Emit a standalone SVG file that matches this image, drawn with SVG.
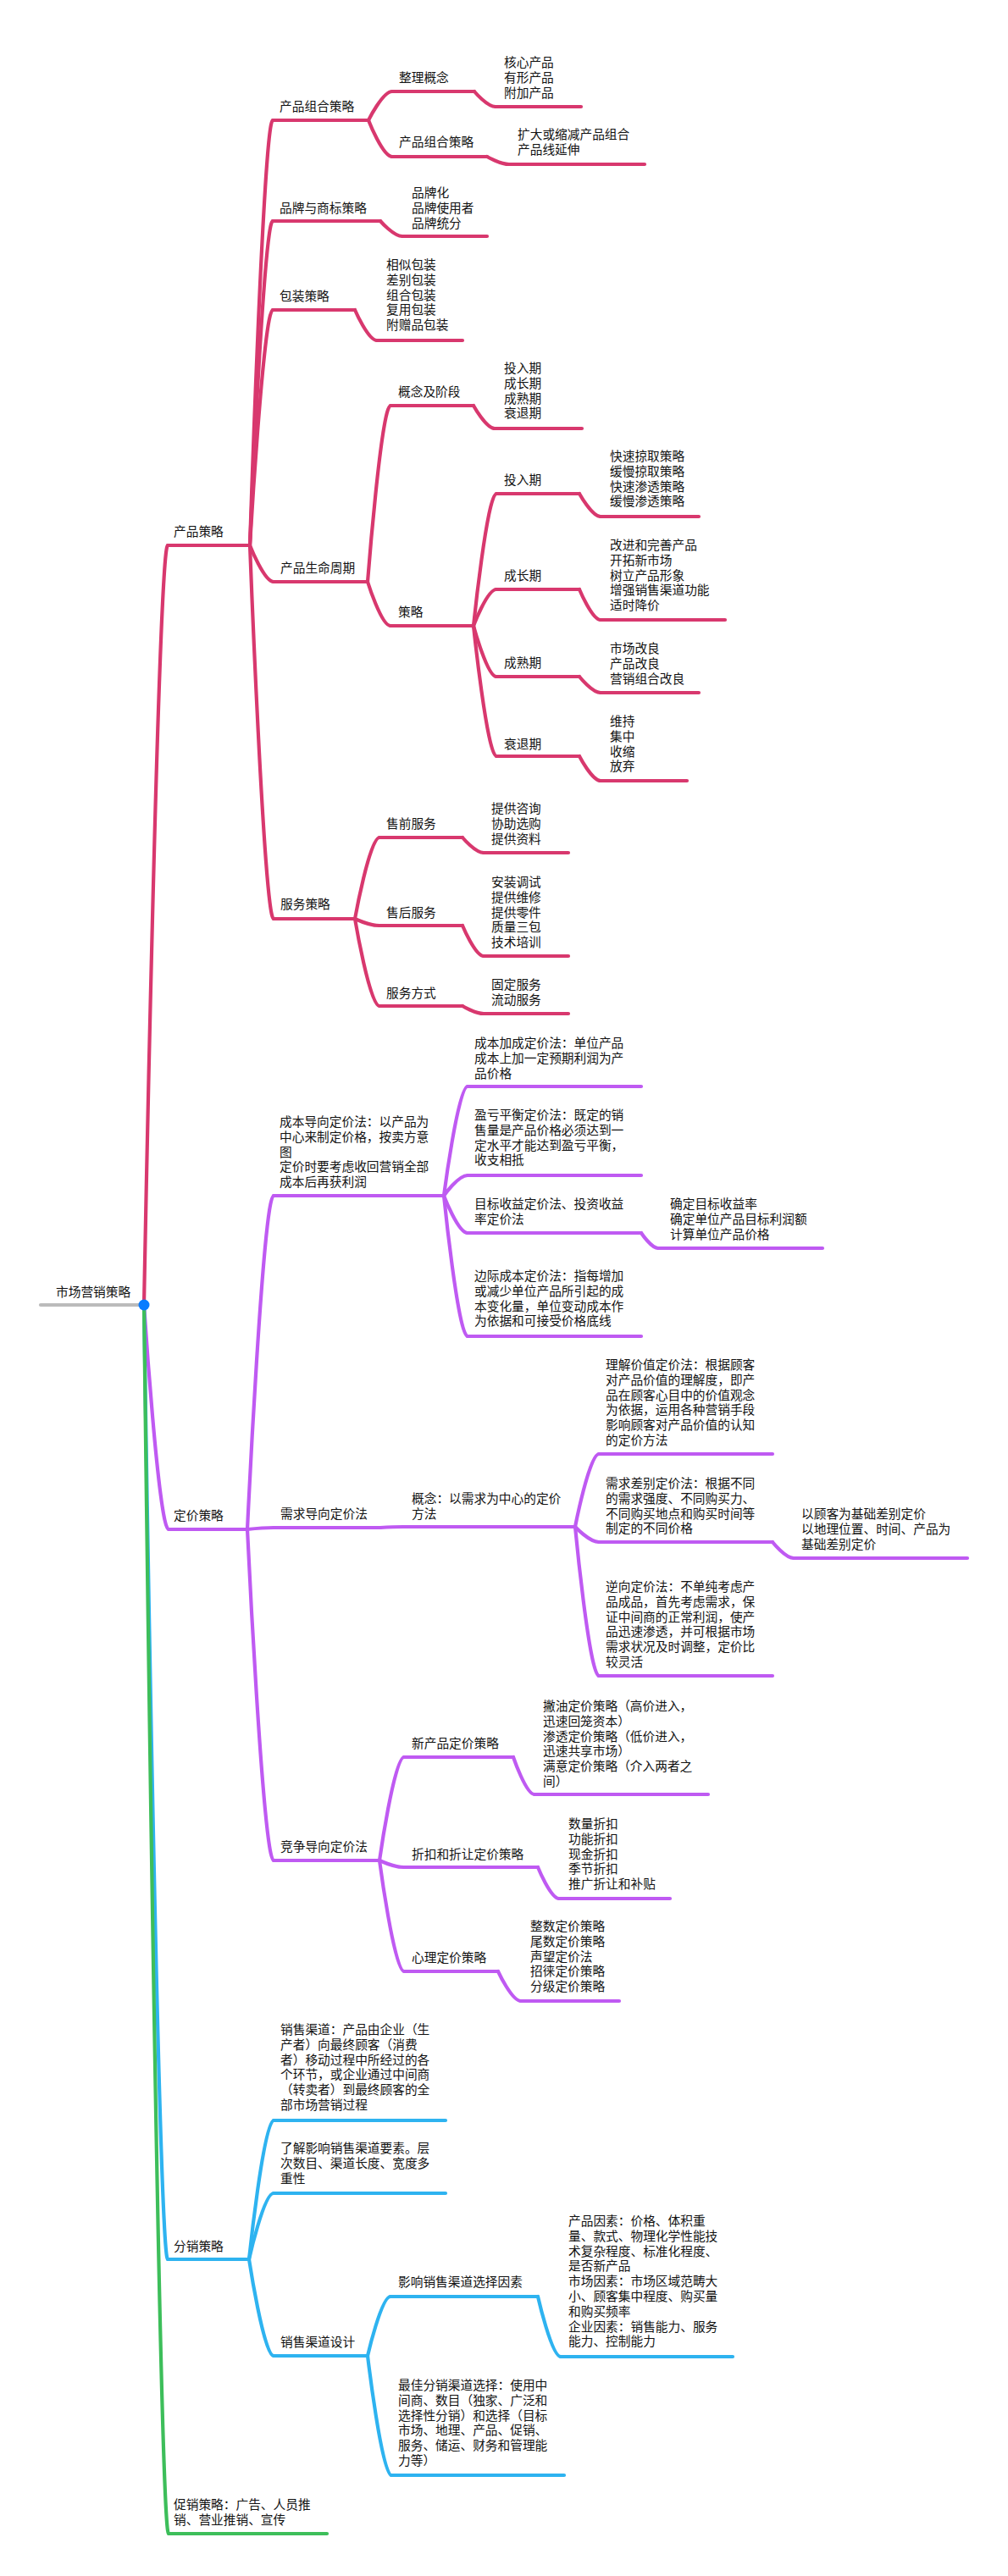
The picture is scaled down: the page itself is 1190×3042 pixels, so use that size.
<svg xmlns="http://www.w3.org/2000/svg" width="1190" height="3042" viewBox="0 0 1190 3042">
<style>
text{font-family:"Noto Sans CJK SC","Noto Sans",sans-serif;font-size:14.7px;fill:#111}
.c{fill:none;stroke-width:4.2;stroke-linecap:round;stroke-linejoin:round}
.pk{stroke:#D8386E}.pu{stroke:#BF5AF2}.bl{stroke:#2EB3F0}.gr{stroke:#3DBE5A}.gy{stroke:#BBBBBB}
</style>
<rect width="1190" height="3042" fill="#fff"/>
<g id="connectors">
<path class="c pu" d="M170 1541 C170 1541 187.4 1806 199 1806"/>
<path class="c bl" d="M170 1541 C170 1541 186.8 2668 198 2668"/>
<path class="c gr" d="M170 1541 C170 1541 187.4 2992 199 2992"/>
<path class="c pk" d="M170 1541 C170 1541 186.8 644 198 644"/>
<g class="c pk">
<path d="M295 644 C295 644 311.2 142 322 142"/>
<path d="M295 644 C295 644 311.2 261 322 261"/>
<path d="M295 644 C295 644 311.2 366 322 366"/>
<path d="M295 644 C295 644 311.8 687 323 687"/>
<path d="M295 644 C295 644 311.8 1085 323 1085"/>
<path d="M435 142 C435 142 451.8 108 463 108"/>
<path d="M435 142 C435 142 451.8 185 463 185"/>
<path d="M560 108 C560 108 575 126 585 126"/>
<path d="M575 185 C575 185 590.6 194 601 194"/>
<path d="M449 261 C449 261 464.6 279 475 279"/>
<path d="M419 366 C419 366 434.6 402 445 402"/>
<path d="M434 687 C434 687 450.2 479 461 479"/>
<path d="M434 687 C434 687 450.2 739 461 739"/>
<path d="M559 479 C559 479 574 506 584 506"/>
<path d="M559 739 C559 739 575.2 583 586 583"/>
<path d="M559 739 C559 739 575.2 696 586 696"/>
<path d="M559 739 C559 739 575.2 799 586 799"/>
<path d="M559 739 C559 739 575.2 893 586 893"/>
<path d="M684 583 C684 583 699 610 709 610"/>
<path d="M684 696 C684 696 699 732 709 732"/>
<path d="M684 799 C684 799 699 818 709 818"/>
<path d="M684 893 C684 893 699 922 709 922"/>
<path d="M419 1085 C419 1085 436.4 989 448 989"/>
<path d="M419 1085 C419 1085 436.4 1093 448 1093"/>
<path d="M419 1085 C419 1085 436.4 1188 448 1188"/>
<path d="M546 989 C546 989 561 1007 571 1007"/>
<path d="M546 1093 C546 1093 561 1129 571 1129"/>
<path d="M546 1188 C546 1188 561 1197 571 1197"/>
</g>
<g class="c pu">
<path d="M292 1806 C292 1806 310.6 1412 323 1412"/>
<path d="M292 1806 C292 1806 310.6 1804 323 1804"/>
<path d="M292 1806 C292 1806 310.6 2197 323 2197"/>
<path d="M524 1412 C524 1412 540.8 1283 552 1283"/>
<path d="M524 1412 C524 1412 540.8 1388 552 1388"/>
<path d="M524 1412 C524 1412 540.8 1456 552 1456"/>
<path d="M524 1412 C524 1412 540.8 1578 552 1578"/>
<path d="M757 1456 C757 1456 769 1474 777 1474"/>
<path d="M449 1804 C449 1804 465.2 1803 476 1803"/>
<path d="M679 1803 C679 1803 695.8 1717 707 1717"/>
<path d="M679 1803 C679 1803 695.8 1821 707 1821"/>
<path d="M679 1803 C679 1803 695.8 1979 707 1979"/>
<path d="M912 1821 C912 1821 927 1840 937 1840"/>
<path d="M448 2197 C448 2197 465.4 2075 477 2075"/>
<path d="M448 2197 C448 2197 465.4 2205 477 2205"/>
<path d="M448 2197 C448 2197 465.4 2328 477 2328"/>
<path d="M606 2075 C606 2075 621 2119 631 2119"/>
<path d="M635 2205 C635 2205 650 2242 660 2242"/>
<path d="M588 2328 C588 2328 604.2 2363 615 2363"/>
</g>
<g class="c bl">
<path d="M294 2668 C294 2668 311.4 2504 323 2504"/>
<path d="M294 2668 C294 2668 311.4 2590 323 2590"/>
<path d="M294 2668 C294 2668 311.4 2782 323 2782"/>
<path d="M434 2782 C434 2782 450.2 2712 461 2712"/>
<path d="M434 2782 C434 2782 450.8 2923 462 2923"/>
<path d="M635 2712 C635 2712 651.2 2783 662 2783"/>
</g>
</g>

<g id="root">
<path class="c gy" d="M48 1541 H170"/>
<text x="66" y="1531">市场营销策略</text>
<circle cx="170" cy="1541" r="6.5" fill="#0A7CFF"/>
</g>

<g id="n-product"><path class="c pk" d="M198 644 H295"/><text x="205" y="633">产品策略</text></g>
<g id="n-combo"><path class="c pk" d="M322 142 H435"/><text x="330" y="131">产品组合策略</text></g>
<g id="n-concept"><path class="c pk" d="M463 108 H560"/><text x="471" y="97">整理概念</text></g>
<g id="n-concept-leaf"><path class="c pk" d="M585 126 H686"/><text x="595" y="79">核心产品<tspan x="595" dy="17.8">有形产品</tspan><tspan x="595" dy="17.8">附加产品</tspan></text></g>
<g id="n-combo2"><path class="c pk" d="M463 185 H575"/><text x="471" y="173">产品组合策略</text></g>
<g id="n-combo2-leaf"><path class="c pk" d="M601 194 H761"/><text x="611" y="164">扩大或缩减产品组合<tspan x="611" dy="17.8">产品线延伸</tspan></text></g>
<g id="n-brand"><path class="c pk" d="M322 261 H449"/><text x="330" y="251">品牌与商标策略</text></g>
<g id="n-brand-leaf"><path class="c pk" d="M475 279 H575"/><text x="486" y="233">品牌化<tspan x="486" dy="17.8">品牌使用者</tspan><tspan x="486" dy="17.8">品牌统分</tspan></text></g>
<g id="n-pack"><path class="c pk" d="M322 366 H419"/><text x="330" y="355">包装策略</text></g>
<g id="n-pack-leaf"><path class="c pk" d="M445 402 H546"/><text x="456" y="318">相似包装<tspan x="456" dy="17.8">差别包装</tspan><tspan x="456" dy="17.8">组合包装</tspan><tspan x="456" dy="17.8">复用包装</tspan><tspan x="456" dy="17.8">附赠品包装</tspan></text></g>
<g id="n-plc"><path class="c pk" d="M323 687 H434"/><text x="331" y="676">产品生命周期</text></g>
<g id="n-stage"><path class="c pk" d="M461 479 H559"/><text x="470" y="468">概念及阶段</text></g>
<g id="n-stage-leaf"><path class="c pk" d="M584 506 H687"/><text x="595" y="440">投入期<tspan x="595" dy="17.8">成长期</tspan><tspan x="595" dy="17.8">成熟期</tspan><tspan x="595" dy="17.8">衰退期</tspan></text></g>
<g id="n-strat"><path class="c pk" d="M461 739 H559"/><text x="470" y="728">策略</text></g>
<g id="n-intro"><path class="c pk" d="M586 583 H684"/><text x="595" y="572">投入期</text></g>
<g id="n-intro-leaf"><path class="c pk" d="M709 610 H825"/><text x="720" y="544">快速掠取策略<tspan x="720" dy="17.8">缓慢掠取策略</tspan><tspan x="720" dy="17.8">快速渗透策略</tspan><tspan x="720" dy="17.8">缓慢渗透策略</tspan></text></g>
<g id="n-growth"><path class="c pk" d="M586 696 H684"/><text x="595" y="685">成长期</text></g>
<g id="n-growth-leaf"><path class="c pk" d="M709 732 H856"/><text x="720" y="649">改进和完善产品<tspan x="720" dy="17.8">开拓新市场</tspan><tspan x="720" dy="17.8">树立产品形象</tspan><tspan x="720" dy="17.8">增强销售渠道功能</tspan><tspan x="720" dy="17.8">适时降价</tspan></text></g>
<g id="n-mature"><path class="c pk" d="M586 799 H684"/><text x="595" y="788">成熟期</text></g>
<g id="n-mature-leaf"><path class="c pk" d="M709 818 H825"/><text x="720" y="771">市场改良<tspan x="720" dy="17.8">产品改良</tspan><tspan x="720" dy="17.8">营销组合改良</tspan></text></g>
<g id="n-decline"><path class="c pk" d="M586 893 H684"/><text x="595" y="884">衰退期</text></g>
<g id="n-decline-leaf"><path class="c pk" d="M709 922 H811"/><text x="720" y="857">维持<tspan x="720" dy="17.8">集中</tspan><tspan x="720" dy="17.8">收缩</tspan><tspan x="720" dy="17.8">放弃</tspan></text></g>
<g id="n-service"><path class="c pk" d="M323 1085 H419"/><text x="331" y="1073">服务策略</text></g>
<g id="n-pre"><path class="c pk" d="M448 989 H546"/><text x="456" y="978">售前服务</text></g>
<g id="n-pre-leaf"><path class="c pk" d="M571 1007 H671"/><text x="580" y="960">提供咨询<tspan x="580" dy="17.8">协助选购</tspan><tspan x="580" dy="17.8">提供资料</tspan></text></g>
<g id="n-after"><path class="c pk" d="M448 1093 H546"/><text x="456" y="1083">售后服务</text></g>
<g id="n-after-leaf"><path class="c pk" d="M571 1129 H671"/><text x="580" y="1047">安装调试<tspan x="580" dy="17.8">提供维修</tspan><tspan x="580" dy="17.8">提供零件</tspan><tspan x="580" dy="17.8">质量三包</tspan><tspan x="580" dy="17.8">技术培训</tspan></text></g>
<g id="n-mode"><path class="c pk" d="M448 1188 H546"/><text x="456" y="1178">服务方式</text></g>
<g id="n-mode-leaf"><path class="c pk" d="M571 1197 H671"/><text x="580" y="1168">固定服务<tspan x="580" dy="17.8">流动服务</tspan></text></g>

<g id="n-pricing"><path class="c pu" d="M199 1806 H292"/><text x="205" y="1795">定价策略</text></g>
<g id="n-cost"><path class="c pu" d="M323 1412 H524"/><text x="330" y="1330">成本导向定价法：以产品为<tspan x="330" dy="17.8">中心来制定价格，按卖方意</tspan><tspan x="330" dy="17.8">图</tspan><tspan x="330" dy="17.8">定价时要考虑收回营销全部</tspan><tspan x="330" dy="17.8">成本后再获利润</tspan></text></g>
<g id="n-costplus"><path class="c pu" d="M552 1283 H757"/><text x="560" y="1237">成本加成定价法：单位产品<tspan x="560" dy="17.8">成本上加一定预期利润为产</tspan><tspan x="560" dy="17.8">品价格</tspan></text></g>
<g id="n-breakeven"><path class="c pu" d="M552 1388 H757"/><text x="560" y="1322">盈亏平衡定价法：既定的销<tspan x="560" dy="17.8">售量是产品价格必须达到一</tspan><tspan x="560" dy="17.8">定水平才能达到盈亏平衡，</tspan><tspan x="560" dy="17.8">收支相抵</tspan></text></g>
<g id="n-target"><path class="c pu" d="M552 1456 H757"/><text x="560" y="1427">目标收益定价法、投资收益<tspan x="560" dy="17.8">率定价法</tspan></text></g>
<g id="n-target-leaf"><path class="c pu" d="M777 1474 H971"/><text x="791" y="1427">确定目标收益率<tspan x="791" dy="17.8">确定单位产品目标利润额</tspan><tspan x="791" dy="17.8">计算单位产品价格</tspan></text></g>
<g id="n-marginal"><path class="c pu" d="M552 1578 H757"/><text x="560" y="1512">边际成本定价法：指每增加<tspan x="560" dy="17.8">或减少单位产品所引起的成</tspan><tspan x="560" dy="17.8">本变化量，单位变动成本作</tspan><tspan x="560" dy="17.8">为依据和可接受价格底线</tspan></text></g>
<g id="n-demand"><path class="c pu" d="M323 1804 H449"/><text x="331" y="1793">需求导向定价法</text></g>
<g id="n-dconcept"><path class="c pu" d="M476 1803 H679"/><text x="486" y="1775">概念：以需求为中心的定价<tspan x="486" dy="17.8">方法</tspan></text></g>
<g id="n-perceived"><path class="c pu" d="M707 1717 H912"/><text x="715" y="1617">理解价值定价法：根据顾客<tspan x="715" dy="17.8">对产品价值的理解度，即产</tspan><tspan x="715" dy="17.8">品在顾客心目中的价值观念</tspan><tspan x="715" dy="17.8">为依据，运用各种营销手段</tspan><tspan x="715" dy="17.8">影响顾客对产品价值的认知</tspan><tspan x="715" dy="17.8">的定价方法</tspan></text></g>
<g id="n-diff"><path class="c pu" d="M707 1821 H912"/><text x="715" y="1757">需求差别定价法：根据不同<tspan x="715" dy="17.8">的需求强度、不同购买力、</tspan><tspan x="715" dy="17.8">不同购买地点和购买时间等</tspan><tspan x="715" dy="17.8">制定的不同价格</tspan></text></g>
<g id="n-diff-leaf"><path class="c pu" d="M937 1840 H1142"/><text x="946" y="1793">以顾客为基础差别定价<tspan x="946" dy="17.8">以地理位置、时间、产品为</tspan><tspan x="946" dy="17.8">基础差别定价</tspan></text></g>
<g id="n-reverse"><path class="c pu" d="M707 1979 H912"/><text x="715" y="1879">逆向定价法：不单纯考虑产<tspan x="715" dy="17.8">品成品，首先考虑需求，保</tspan><tspan x="715" dy="17.8">证中间商的正常利润，使产</tspan><tspan x="715" dy="17.8">品迅速渗透，并可根据市场</tspan><tspan x="715" dy="17.8">需求状况及时调整，定价比</tspan><tspan x="715" dy="17.8">较灵活</tspan></text></g>
<g id="n-compete"><path class="c pu" d="M323 2197 H448"/><text x="331" y="2186">竞争导向定价法</text></g>
<g id="n-new"><path class="c pu" d="M477 2075 H606"/><text x="486" y="2064">新产品定价策略</text></g>
<g id="n-new-leaf"><path class="c pu" d="M631 2119 H836"/><text x="641" y="2020">撇油定价策略（高价进入，<tspan x="641" dy="17.8">迅速回笼资本）</tspan><tspan x="641" dy="17.8">渗透定价策略（低价进入，</tspan><tspan x="641" dy="17.8">迅速共享市场）</tspan><tspan x="641" dy="17.8">满意定价策略（介入两者之</tspan><tspan x="641" dy="17.8">间）</tspan></text></g>
<g id="n-discount"><path class="c pu" d="M477 2205 H635"/><text x="486" y="2195">折扣和折让定价策略</text></g>
<g id="n-discount-leaf"><path class="c pu" d="M660 2242 H791"/><text x="671" y="2159">数量折扣<tspan x="671" dy="17.8">功能折扣</tspan><tspan x="671" dy="17.8">现金折扣</tspan><tspan x="671" dy="17.8">季节折扣</tspan><tspan x="671" dy="17.8">推广折让和补贴</tspan></text></g>
<g id="n-psych"><path class="c pu" d="M477 2328 H588"/><text x="486" y="2317">心理定价策略</text></g>
<g id="n-psych-leaf"><path class="c pu" d="M615 2363 H731"/><text x="626" y="2280">整数定价策略<tspan x="626" dy="17.8">尾数定价策略</tspan><tspan x="626" dy="17.8">声望定价法</tspan><tspan x="626" dy="17.8">招徕定价策略</tspan><tspan x="626" dy="17.8">分级定价策略</tspan></text></g>

<g id="n-dist"><path class="c bl" d="M198 2668 H294"/><text x="205" y="2658">分销策略</text></g>
<g id="n-channel"><path class="c bl" d="M323 2504 H526"/><text x="331" y="2402">销售渠道：产品由企业（生<tspan x="331" dy="17.8">产者）向最终顾客（消费</tspan><tspan x="331" dy="17.8">者）移动过程中所经过的各</tspan><tspan x="331" dy="17.8">个环节，或企业通过中间商</tspan><tspan x="331" dy="17.8">（转卖者）到最终顾客的全</tspan><tspan x="331" dy="17.8">部市场营销过程</tspan></text></g>
<g id="n-know"><path class="c bl" d="M323 2590 H526"/><text x="331" y="2542">了解影响销售渠道要素。层<tspan x="331" dy="17.8">次数目、渠道长度、宽度多</tspan><tspan x="331" dy="17.8">重性</tspan></text></g>
<g id="n-design"><path class="c bl" d="M323 2782 H434"/><text x="331" y="2771">销售渠道设计</text></g>
<g id="n-influence"><path class="c bl" d="M461 2712 H635"/><text x="470" y="2700">影响销售渠道选择因素</text></g>
<g id="n-influence-leaf"><path class="c bl" d="M662 2783 H865"/><text x="671" y="2628">产品因素：价格、体积重<tspan x="671" dy="17.8">量、款式、物理化学性能技</tspan><tspan x="671" dy="17.8">术复杂程度、标准化程度、</tspan><tspan x="671" dy="17.8">是否新产品</tspan><tspan x="671" dy="17.8">市场因素：市场区域范畴大</tspan><tspan x="671" dy="17.8">小、顾客集中程度、购买量</tspan><tspan x="671" dy="17.8">和购买频率</tspan><tspan x="671" dy="17.8">企业因素：销售能力、服务</tspan><tspan x="671" dy="17.8">能力、控制能力</tspan></text></g>
<g id="n-best"><path class="c bl" d="M462 2923 H666"/><text x="470" y="2822">最佳分销渠道选择：使用中<tspan x="470" dy="17.8">间商、数目（独家、广泛和</tspan><tspan x="470" dy="17.8">选择性分销）和选择（目标</tspan><tspan x="470" dy="17.8">市场、地理、产品、促销、</tspan><tspan x="470" dy="17.8">服务、储运、财务和管理能</tspan><tspan x="470" dy="17.8">力等）</tspan></text></g>

<g id="n-promo"><path class="c gr" d="M199 2992 H386"/><text x="205" y="2963">促销策略：广告、人员推<tspan x="205" dy="17.8">销、营业推销、宣传</tspan></text></g>
</svg>
